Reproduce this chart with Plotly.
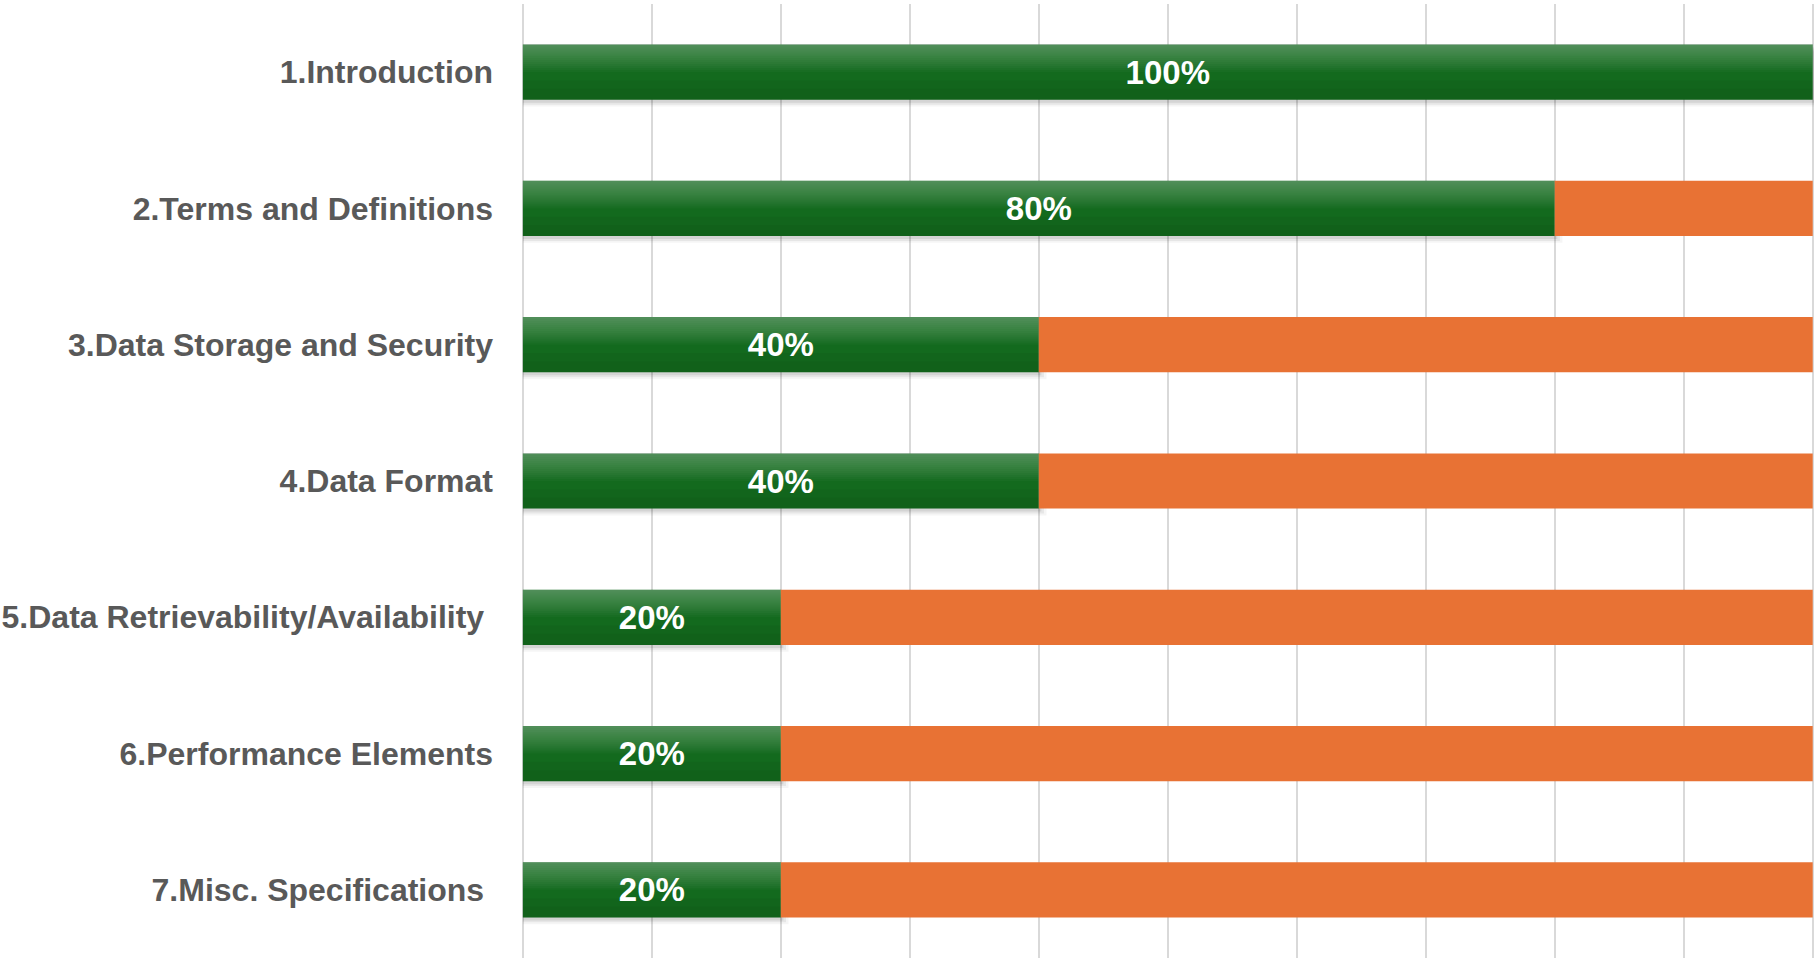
import plotly.graph_objects as go

categories = [
    "1.Introduction",
    "2.Terms and Definitions",
    "3.Data Storage and Security",
    "4.Data Format",
    "5.Data Retrievability/Availability ",
    "6.Performance Elements",
    "7.Misc. Specifications ",
]
done = [1.00, 0.80, 0.40, 0.40, 0.20, 0.20, 0.20]
remaining = [0.00, 0.20, 0.60, 0.60, 0.80, 0.80, 0.80]
labels = ["100%", "80%", "40%", "40%", "20%", "20%", "20%"]

GREEN = "#136a1e"
ORANGE = "#e87234"
BW = 0.405
half = BW / 2

fig = go.Figure()

# soft drop shadow under the green bars
for dy, ext, alpha in [(0.05, 0.006, 0.04), (0.036, 0.004, 0.06), (0.022, 0.002, 0.08)]:
    fig.add_trace(go.Bar(
        y=categories, x=[v + ext for v in done], base=0, orientation="h",
        width=BW, offset=-half + dy,
        marker=dict(color=f"rgba(0,0,0,{alpha})", line=dict(width=0)),
        hoverinfo="skip", showlegend=False,
    ))

# main green bars
fig.add_trace(go.Bar(
    y=categories, x=done, base=0, orientation="h",
    width=BW, offset=-half,
    marker=dict(color=GREEN, line=dict(width=0)),
    showlegend=False, name="Done",
))

# lighter top gradient overlays
n_layers = 14
for i in range(n_layers):
    frac = 0.5 * (n_layers - i) / n_layers
    fig.add_trace(go.Bar(
        y=categories, x=done, base=0, orientation="h",
        width=BW * frac, offset=-half,
        marker=dict(color="rgba(255,255,255,0.022)", line=dict(width=0)),
        hoverinfo="skip", showlegend=False,
    ))
# darker bottom overlay
for frac in [0.35, 0.2]:
    fig.add_trace(go.Bar(
        y=categories, x=done, base=0, orientation="h",
        width=BW * frac, offset=half - BW * frac,
        marker=dict(color="rgba(0,0,0,0.04)", line=dict(width=0)),
        hoverinfo="skip", showlegend=False,
    ))

# data labels
fig.add_trace(go.Bar(
    y=categories, x=done, base=0, orientation="h",
    width=BW, offset=-half,
    marker=dict(color="rgba(0,0,0,0)", line=dict(width=0)),
    text=labels, textposition="inside", insidetextanchor="middle",
    textangle=0,
    textfont=dict(color="white", size=33, family="Liberation Sans, Arial", weight="bold"),
    hoverinfo="skip", showlegend=False,
))

# orange remainder
fig.add_trace(go.Bar(
    y=categories, x=remaining, base=done, orientation="h",
    width=BW, offset=-half,
    marker=dict(color=ORANGE, line=dict(width=0)),
    showlegend=False, name="Remaining",
))

fig.update_layout(
    width=1814, height=958,
    margin=dict(l=519, r=0, t=4, b=0),
    barmode="overlay",
    plot_bgcolor="white", paper_bgcolor="white",
    font=dict(family="Liberation Sans, Arial", color="#595959"),
    xaxis=dict(
        range=[-0.003, 1.001], dtick=0.1, tick0=0,
        showgrid=True, gridcolor="#d9d9d9", gridwidth=1.6,
        showticklabels=False, zeroline=False, showline=False, ticks="",
        automargin=False,
    ),
    yaxis=dict(
        type="category", autorange="reversed",
        showgrid=False, zeroline=False, showline=False, ticks="",
        ticklabelstandoff=25, automargin=False,
        tickfont=dict(size=32, color="#595959", family="Liberation Sans, Arial", weight="bold"),
    ),
)

fig.write_html(
    "out.html",
    config={"displayModeBar": False},
    post_script="document.body.style.margin='0';document.body.style.overflow='hidden';",
)
